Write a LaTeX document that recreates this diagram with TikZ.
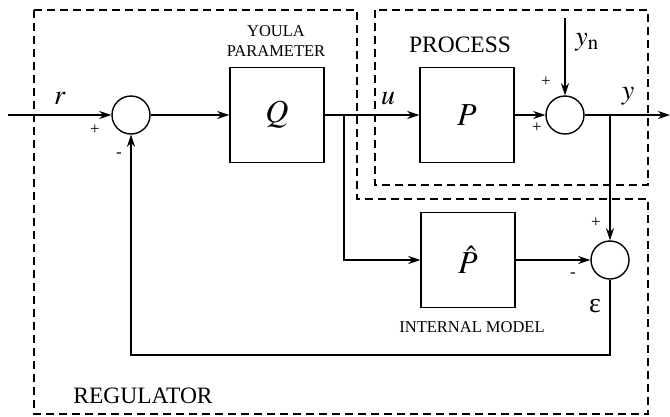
\documentclass[tikz,border=0pt]{standalone}
\usepackage{mathptmx}
\usepackage{fontspec}
\setmainfont{Liberation Serif}
\usetikzlibrary{arrows.meta}

\tikzset{
  blk/.style={draw,line width=1.4pt,minimum width=94pt,minimum height=95pt,inner sep=0pt,font=\fontsize{32}{36}\selectfont},
  sumc/.style={draw,circle,line width=1.4pt,minimum size=38pt,inner sep=0pt},
  sig/.style={line width=1.7pt},
  bound/.style={line width=1.3pt,dash pattern=on 8pt off 5pt},
  sgn/.style={font=\fontsize{17}{19}\selectfont,inner sep=0pt},
  mlbl/.style={font=\fontsize{28}{32}\selectfont,inner sep=0pt},
  tlbl/.style={font=\fontsize{23.5}{26}\selectfont,inner sep=0pt,align=center},
  slbl/.style={font=\fontsize{16.5}{20}\selectfont,inner sep=0pt,align=center},
}

\begin{document}
\begin{tikzpicture}[x=1pt,y=-1pt,>={Stealth[length=12pt,width=8pt]}]
\useasboundingbox (0,0) rectangle (670,416);
% regulator and process boundaries
\draw[bound] (34,10)--(357,10)--(357,199)--(648,199)--(648,414)--(34,414)--cycle;
\draw[bound] (375,10) rectangle (648,185);
% blocks and summing points
\node[sumc] (s1) at (131,115) {};
\node[blk] (q) at (277,115) {$Q$};
\node[blk] (p) at (467,115) {$P$};
\node[sumc] (s2) at (565,115) {};
\node[blk] (ph) at (468,260) {$\hat{P}$};
\node[sumc] (s3) at (610,260) {};
% free ends, branch points
\coordinate (in) at (8,115);
\coordinate (out) at (670,115);
\coordinate (yn) at (565,18);
\coordinate (b1) at (344,115);
\coordinate (b2) at (610,115);
\coordinate (fb) at (610,355);
% signals
\draw[sig,->] (in) -- (s1);
\draw[sig,->] (s1) -- (q);
\draw[sig,->] (q) -- (p);
\draw[sig,->] (p) -- (s2);
\draw[sig,->] (s2) -- (out);
\draw[sig,->] (yn) -- (s2);
\draw[sig,->] (b1) |- (ph);
\draw[sig,->] (ph) -- (s3);
\draw[sig,->] (b2) -- (s3);
\draw[sig,->] (s3) -- (fb) -| (s1);
% signal names and signs
\node[mlbl] (lr) at (60,98) {$r$};
\node[mlbl] (lu) at (388,99) {$u$};
\node[mlbl] (ly) at (628,96) {$y$};
\node[mlbl] (lyn) at (587,42) {$y_{\mathrm{n}}$};
\node[font=\fontsize{28}{30}\selectfont,inner sep=0pt] (leps) at (595,306) {ε};
\node[sgn] (p1) at (95,130) {+};
\node[sgn] (m1) at (119,155) {-};
\node[sgn] (p2) at (546,82) {+};
\node[sgn] (p3) at (537,128) {+};
\node[sgn] (p4) at (596,223) {+};
\node[sgn] (m3) at (573,275) {-};
% block titles
\node[slbl] (tq) at (276,41) {YOULA\\PARAMETER};
\node[tlbl] (tp) at (460,44.5) {PROCESS};
\node[slbl] (tph) at (472,327) {INTERNAL MODEL};
\node[tlbl] (treg) at (143,396) {REGULATOR};
\end{tikzpicture}
\end{document}
